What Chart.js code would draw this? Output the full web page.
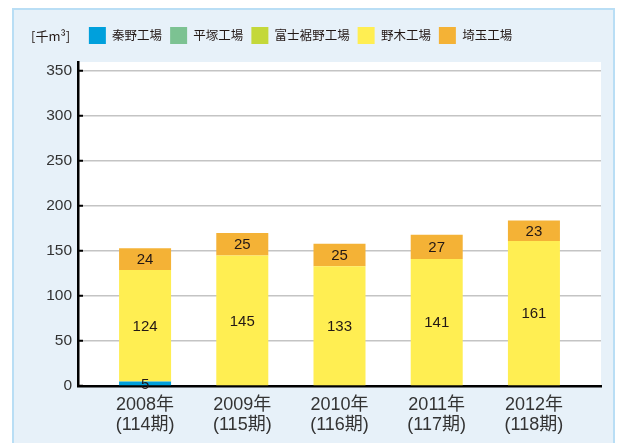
<!DOCTYPE html>
<html><head><meta charset="utf-8">
<script src="https://cdn.jsdelivr.net/npm/chart.js@4"></script>
<style>
html,body{margin:0;padding:0;background:#fff;}
#panel{position:absolute;left:12px;top:8px;width:599px;height:440px;background:#e7f1f9;border:2px solid #b9def5;}
#wrap{position:absolute;left:0;top:0;width:618px;height:443px;}
</style></head>
<body>
<div id="panel"></div>
<div id="wrap"><canvas id="c" width="618" height="443"></canvas></div>
<script>
const years = ['2008年','2009年','2010年','2011年','2012年'];
const periods = ['(114期)','(115期)','(116期)','(117期)','(118期)'];
const seriesNames = ['秦野工場','平塚工場','富士裾野工場','野木工場','埼玉工場'];
const hatano   = [5, 0, 0, 0, 0];
const hiratsuka= [0, 0, 0, 0, 0];
const fuji     = [0, 0, 0, 0, 0];
const nogi     = [124, 145, 133, 141, 161];
const saitama  = [24, 25, 25, 27, 23];
const yTicks = [0, 50, 100, 150, 200, 250, 300, 350];
const unitLabel = '[千m³]';
const colors = ['#00a0dc','#7cc292','#c4d83a','#ffee52','#f4b236'];

const seriesValues = [hatano, hiratsuka, fuji, nogi, saitama];
const datasets = seriesNames.map((name, s) => ({
  label: name,
  data: seriesValues[s].map((v, i) => ({x: i, y: v})),
  backgroundColor: colors[s],
  borderWidth: 0,
  categoryPercentage: 1,
  barPercentage: 0.535
}));

const textColor = '#231815';
const sansFont = "'Liberation Sans', Arial, 'Noto Sans CJK JP', sans-serif";

const bgPlugin = {
  id: 'plotBg',
  beforeDraw(chart) {
    const {ctx, chartArea: a} = chart;
    ctx.save();
    ctx.fillStyle = '#ffffff';
    ctx.fillRect(a.left, a.top, a.right - a.left, a.bottom - a.top);
    ctx.restore();
  },
  afterDatasetsDraw(chart) {
    const ctx = chart.ctx;
    ctx.save();
    ctx.font = "15px " + sansFont;
    ctx.fillStyle = textColor;
    ctx.textAlign = 'center';
    ctx.textBaseline = 'middle';
    chart.data.datasets.forEach((ds, di) => {
      const meta = chart.getDatasetMeta(di);
      meta.data.forEach((el, i) => {
        const v = ds.data[i].y;
        if (!v) return;
        const cy = (el.y + el.base) / 2;
        ctx.fillText(String(v), el.x, cy + 1);
      });
    });
    ctx.restore();
  },
  afterDraw(chart) {
    const ctx = chart.ctx;
    const lg = chart.legend;
    ctx.save();
    ctx.font = "13px 'Noto Sans CJK JP', sans-serif";
    ctx.fillStyle = textColor;
    ctx.textAlign = 'left';
    ctx.textBaseline = 'middle';
    ctx.fillText(unitLabel, 31, lg.top + 8 + 9);
    ctx.restore();
  }
};

// extend legend height to leave a gap above the plot area
const legendGap = {
  id: 'legendGap',
  beforeInit(chart) {
    const origFit = chart.legend.fit;
    chart.legend.fit = function () {
      origFit.bind(this)();
      this.height += 8;
    };
  }
};

new Chart(document.getElementById('c'), {
  type: 'bar',
  data: { datasets },
  plugins: [bgPlugin, legendGap],
  options: {
    responsive: false,
    animation: false,
    layout: { padding: { top: 19, left: 0, right: 17, bottom: 0 } },
    plugins: {
      legend: {
        position: 'top',
        align: 'center',
        labels: {
          boxWidth: 17, boxHeight: 17, padding: 8,
          color: textColor,
          font: { size: 12.5, family: "'Noto Sans CJK JP', sans-serif" }
        }
      },
      tooltip: { enabled: false }
    },
    scales: {
      x: {
        type: 'linear',
        stacked: true,
        offset: false,
        min: -0.69, max: 4.69,
        afterBuildTicks(axis) { axis.ticks = years.map((_, i) => ({ value: i })); },
        afterFit(axis) { axis.height = 57; },
        grid: { display: false, drawTicks: false, offset: false },
        border: { display: true, color: '#000', width: 2.5 },
        ticks: {
          autoSkip: false, maxRotation: 0, padding: 9,
          color: '#333',
          font: { size: 18, family: sansFont, lineHeight: 1.11 },
          callback: (v) => [years[v], periods[v]]
        }
      },
      y: {
        stacked: true,
        min: 0, max: 360,
        afterBuildTicks(axis) { axis.ticks = yTicks.map(v => ({ value: v })); },
        afterFit(axis) { axis.width = 78; },
        grid: { color: '#c4c4c4', lineWidth: 1.5, drawTicks: true, tickLength: -5, tickColor: '#000', tickWidth: 2 },
        border: { display: true, color: '#000', width: 2.5 },
        ticks: {
          padding: 11,
          color: '#333',
          font: { size: 15.5, family: sansFont }
        }
      }
    }
  }
});
</script>
</body></html>
